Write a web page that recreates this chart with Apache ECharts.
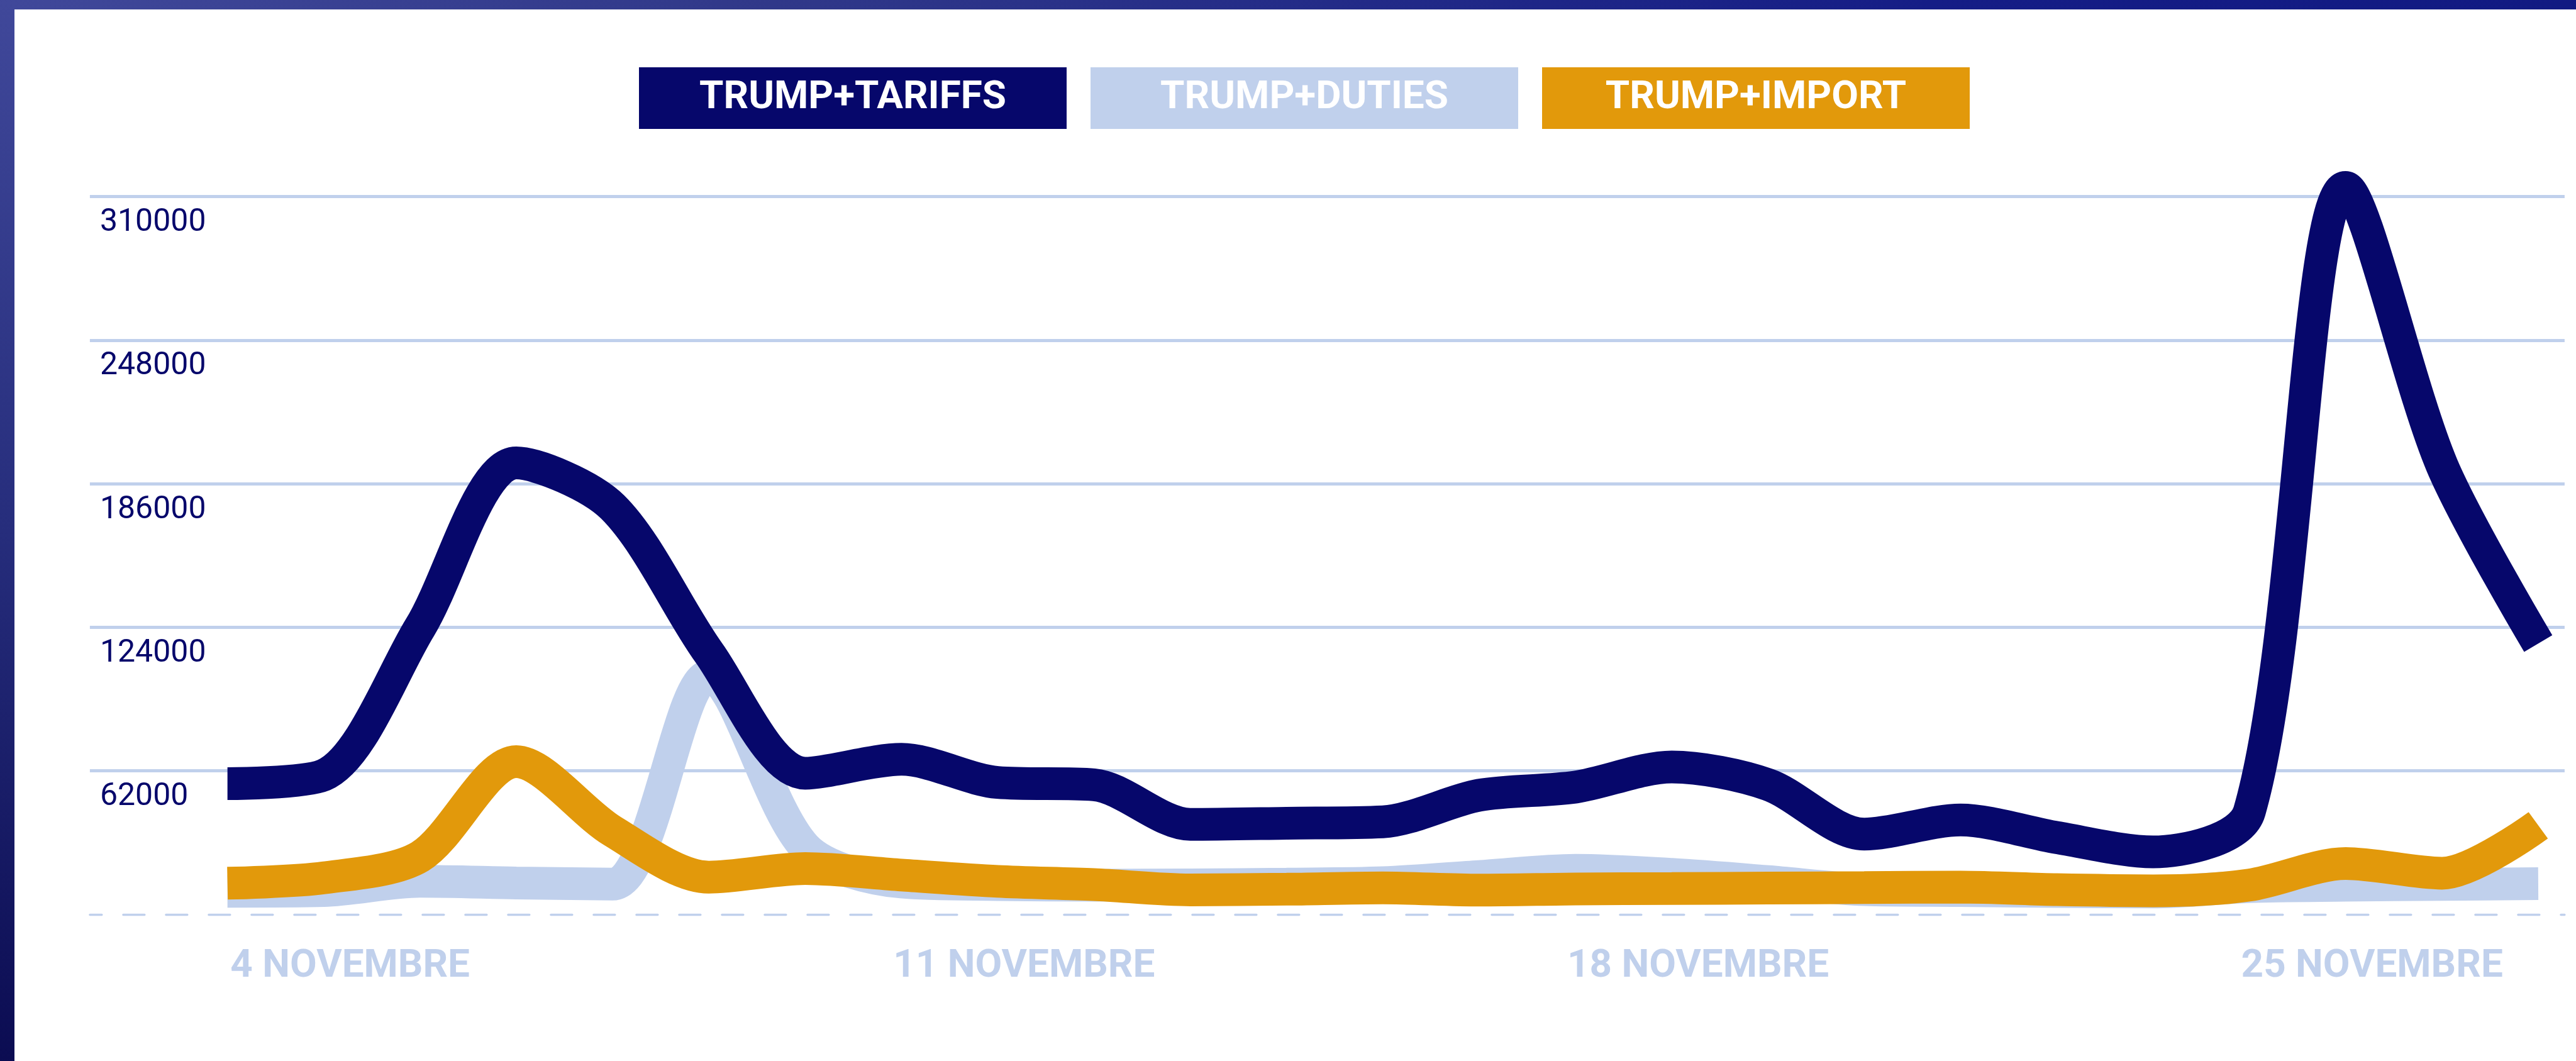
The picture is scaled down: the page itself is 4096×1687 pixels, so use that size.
<!DOCTYPE html>
<html>
<head>
<meta charset="utf-8">
<script src="https://cdn.jsdelivr.net/npm/echarts@6/dist/echarts.min.js"></script>
<style>
  html, body { margin: 0; padding: 0; background: #fff; }
  #chart { width: 4096px; height: 1687px; }
</style>
</head>
<body>
<div id="chart"></div>
<script>
// daily values, 4 -> 28 novembre
var days = [4, 5, 6, 7, 8, 9, 10, 11, 12, 13, 14, 15, 16, 17, 18, 19, 20, 21, 22, 23, 24, 25, 26, 27, 28];
var tariffs = [56500, 60200, 124000, 195000, 176000, 113000, 61000, 67000, 57000, 56000, 38900, 39400, 40000,
               51500, 55000, 63700, 56100, 34700, 40800, 33200, 27000, 44500, 314000, 194000, 117000];
var duties = [10000, 10300, 14300, 13600, 13100, 103000, 29000, 14000, 12900, 12600, 12800, 13100, 13700,
              16400, 19100, 17300, 14200, 10700, 10300, 9900, 9700, 12000, 12600, 13000, 13300];
var imports = [13500, 15800, 25000, 66000, 36000, 16100, 19800, 17000, 14300, 12900, 10600, 10900, 11500,
               10500, 11000, 11200, 11400, 11600, 11800, 10700, 10200, 12700, 22000, 17800, 38500];

var seriesNames = ['TRUMP+TARIFFS', 'TRUMP+DUTIES', 'TRUMP+IMPORT'];
var xLabelDays = [4, 11, 18, 25];
var xLabelTexts = ['4 NOVEMBRE', '11 NOVEMBRE', '18 NOVEMBRE', '25 NOVEMBRE'];
var yMax = 310000;
var yStep = 62000;

var navy = '#06076b';
var pale = '#c0d0ec';
var amber = '#e2990b';
var font = 'Roboto, "Liberation Sans", sans-serif';

var chart = echarts.init(document.getElementById('chart'));

function pairs(values) {
    return values.map(function (v, i) { return [days[i], v]; });
}

function legendBox(color) {
    return {
        backgroundColor: color, color: '#fff', width: 680, height: 98, lineHeight: 98,
        align: 'center', fontFamily: font, fontWeight: 'bold', fontSize: 62
    };
}

function lineSeries(name, values, color) {
    return {
        name: name,
        type: 'line',
        data: pairs(values),
        smooth: 0.3,
        symbol: 'none',
        clip: false,
        silent: true,
        lineStyle: { color: color, width: 52, cap: 'butt' },
        itemStyle: { color: color },
        emphasis: { disabled: true }
    };
}

var option = {
    animation: false,
    backgroundColor: '#fff',
    graphic: [
        {
            type: 'rect', x: 0, y: 0, silent: true,
            shape: { width: 4096, height: 15 },
            style: { fill: new echarts.graphic.LinearGradient(0, 0, 1, 0, [
                { offset: 0, color: '#40489a' }, { offset: 0.3, color: '#303889' },
                { offset: 0.75, color: '#151d86' }, { offset: 1, color: '#111a82' }]) }
        },
        {
            type: 'rect', x: 0, y: 0, silent: true,
            shape: { width: 23, height: 1687 },
            style: { fill: new echarts.graphic.LinearGradient(0, 0, 0, 1, [
                { offset: 0, color: '#40489a' }, { offset: 0.5, color: '#262d7c' },
                { offset: 1, color: '#0b0c52' }]) }
        }
    ],
    legend: {
        left: 1010,
        top: 107,
        padding: 0,
        itemGap: 32,
        itemWidth: 0,
        itemHeight: 0,
        selectedMode: false,
        data: seriesNames,
        formatter: function (name) {
            return '{b' + seriesNames.indexOf(name) + '|' + name + '}';
        },
        textStyle: {
            rich: { b0: legendBox(navy), b1: legendBox(pale), b2: legendBox(amber) }
        }
    },
    grid: { left: 142.9, right: 18.1, top: 312.7, bottom: 233, containLabel: false },
    xAxis: {
        type: 'value',
        min: 2.571,
        max: 28.274,
        axisLine: { show: true, lineStyle: { color: pale, width: 3.3, type: [34, 34], dashOffset: 15 } },
        axisTick: { show: false },
        splitLine: { show: false },
        axisLabel: {
            customValues: xLabelDays,
            formatter: function (v) {
                return '{s|}{t|' + xLabelTexts[xLabelDays.indexOf(v)] + '}';
            },
            align: 'center',
            margin: 52,
            rich: {
                s: { width: 390 },
                t: { color: pale, fontFamily: font, fontWeight: 'bold', fontSize: 62, lineHeight: 62 }
            }
        }
    },
    yAxis: {
        type: 'value',
        min: 0,
        max: yMax,
        interval: yStep,
        axisLine: { show: false },
        axisTick: { show: false },
        splitLine: { show: true, showMinLine: false, lineStyle: { color: pale, width: 5 } },
        axisLabel: {
            inside: true,
            margin: 16,
            align: 'left',
            verticalAlign: 'top',
            lineHeight: 84,
            showMinLabel: false,
            color: navy,
            fontFamily: font,
            fontSize: 50,
            formatter: function (v) { return String(v); }
        }
    },
    series: [
        lineSeries(seriesNames[1], duties, pale),
        lineSeries(seriesNames[2], imports, amber),
        lineSeries(seriesNames[0], tariffs, navy)
    ]
};

chart.setOption(option);
</script>
</body>
</html>
